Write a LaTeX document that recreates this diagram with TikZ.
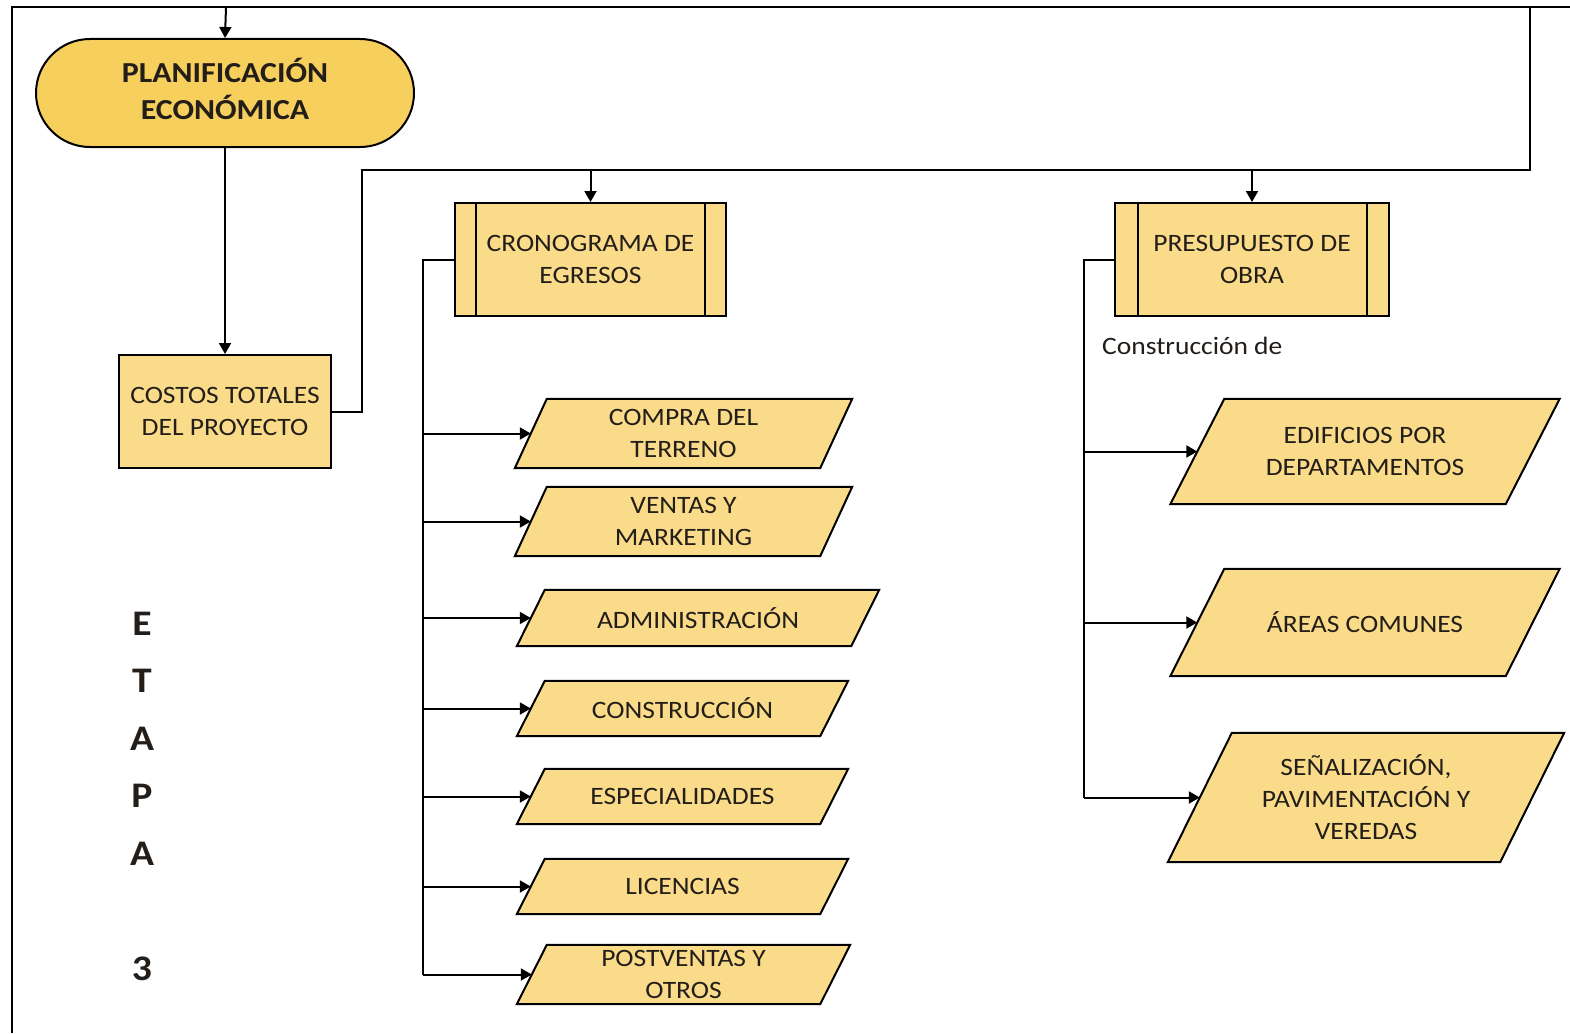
\documentclass[tikz,border=0pt]{standalone}
\usepackage{fontspec}
\setmainfont[FakeStretch=1.1]{Carlito}
\usetikzlibrary{arrows.meta,backgrounds}
\definecolor{termfill}{RGB}{247,207,92}
\definecolor{boxfill}{RGB}{249,219,137}
\definecolor{txt}{RGB}{35,30,25}
\begin{document}
\begin{tikzpicture}[x=1pt,y=-1pt,
  conn/.style={line width=2pt,draw=black},
  arr/.style={conn,-{Triangle[length=11pt,width=12pt]}},
  terminal/.style={draw=black,line width=2pt,fill=termfill,rounded corners=54pt,
    minimum width=378pt,minimum height=108pt,align=center,text=txt,
    font=\fontsize{29}{37}\selectfont\bfseries},
  procbox/.style={draw=black,line width=2pt,fill=boxfill,align=center,text=txt,
    font=\fontsize{25}{32}\selectfont},
  subproc/.style={procbox,minimum height=113pt,inner sep=0pt},
  para/.style={align=center,text=txt,inner sep=0pt,font=\fontsize{25}{32}\selectfont},
]
\useasboundingbox (0,0) rectangle (1570,1033);
% frame
\draw[line width=2.4pt] (12,1033) -- (12,7) -- (1570,7);

% main nodes
\node[terminal] (plan) at (225,93) {PLANIFICACIÓN\\ECONÓMICA\rule[-9pt]{0pt}{0pt}};
\node[procbox,minimum width=212pt,minimum height=113pt,inner sep=0pt] (costos) at (225,411.5) {COSTOS TOTALES\\DEL PROYECTO};
\node[subproc,minimum width=271pt] (crono) at (590.5,259.5) {CRONOGRAMA DE\\EGRESOS};
\draw[line width=2pt] ([xshift=22pt]crono.north west) -- ([xshift=22pt]crono.south west)
  ([xshift=-22pt]crono.north east) -- ([xshift=-22pt]crono.south east);
\node[subproc,minimum width=274pt] (presu) at (1252,259.5) {PRESUPUESTO DE\\OBRA};
\draw[line width=2pt] ([xshift=24pt]presu.north west) -- ([xshift=24pt]presu.south west)
  ([xshift=-23pt]presu.north east) -- ([xshift=-23pt]presu.south east);

% parallelogram text nodes (width = midline width)
\node[para,minimum width=305pt,minimum height=69pt] (compra) at (683.5,433.5) {COMPRA DEL\\TERRENO};
\node[para,minimum width=305pt,minimum height=69pt] (ventas) at (683.5,521.5) {VENTAS Y\\MARKETING};
\node[para,minimum width=334pt,minimum height=56pt] (admin) at (698,618) {ADMINISTRACIÓN};
\node[para,minimum width=303pt,minimum height=55pt] (constr) at (682.5,708.5) {CONSTRUCCIÓN};
\node[para,minimum width=303pt,minimum height=55pt] (espec) at (682.5,796.5) {ESPECIALIDADES};
\node[para,minimum width=303pt,minimum height=55pt] (lic) at (682.5,886.5) {LICENCIAS};
\node[para,minimum width=303pt,minimum height=59pt] (post) at (683.5,974.5) {POSTVENTAS Y\\OTROS};

\node[para,minimum width=335pt,minimum height=105pt] (edif) at (1365,451.5) {EDIFICIOS POR\\DEPARTAMENTOS};
\node[para,minimum width=335pt,minimum height=107pt] (areas) at (1365,622.5) {ÁREAS COMUNES};
\node[para,minimum width=332pt,minimum height=129pt] (senal) at (1366,797.5) {SEÑALIZACIÓN,\\PAVIMENTACIÓN Y\\VEREDAS};

\begin{scope}[on background layer]
\fill[white] (0,0) rectangle (1570,1033);
\foreach \n/\s in {compra/16,ventas/16,admin/14,constr/14,espec/14,lic/14,post/15,edif/27,areas/27,senal/32}{
  \draw[line width=2pt,fill=boxfill]
    ([xshift=\s pt]\n.north west) -- ([xshift=\s pt]\n.north east)
    -- ([xshift=-\s pt]\n.south east) -- ([xshift=-\s pt]\n.south west) -- cycle;
}
\end{scope}

% labels
\node[anchor=west,text=txt,inner sep=0pt,font=\fontsize{25}{30}\selectfont] (constde) at (1102,346) {Construcción de};
\node[align=center,text=txt,inner sep=0pt,font=\fontsize{36}{57.5}\selectfont\bfseries] (etapa) at (142,796) {E\\T\\A\\P\\A\\\mbox{}\\3};

% connectors
\coordinate (topL) at (226,7);
\draw[arr] (topL) -- (plan.north);
\draw[arr] (plan.south) -- (costos.north);
\coordinate (loopL) at (362,170);
\coordinate (loopR) at (1530,170);
\coordinate (topR) at (1530,7);
\draw[conn] (costos.east) -| (loopL) -- (loopR) -- (topR);
\draw[arr] (crono.north |- loopL) -- (crono.north);
\draw[arr] (presu.north |- loopL) -- (presu.north);

\draw[conn] (crono.west) -- ++(-31pt,0) coordinate (t1) -- (t1 |- post.west);
\foreach \n in {compra,ventas,admin,constr,espec,lic,post}{
  \draw[arr] (t1 |- \n.west) -- (\n.west);
}
\draw[conn] (presu.west) -- ++(-30pt,0) coordinate (t2) -- (t2 |- senal.west);
\foreach \n in {edif,areas,senal}{
  \draw[arr] (t2 |- \n.west) -- (\n.west);
}
\end{tikzpicture}
\end{document}
